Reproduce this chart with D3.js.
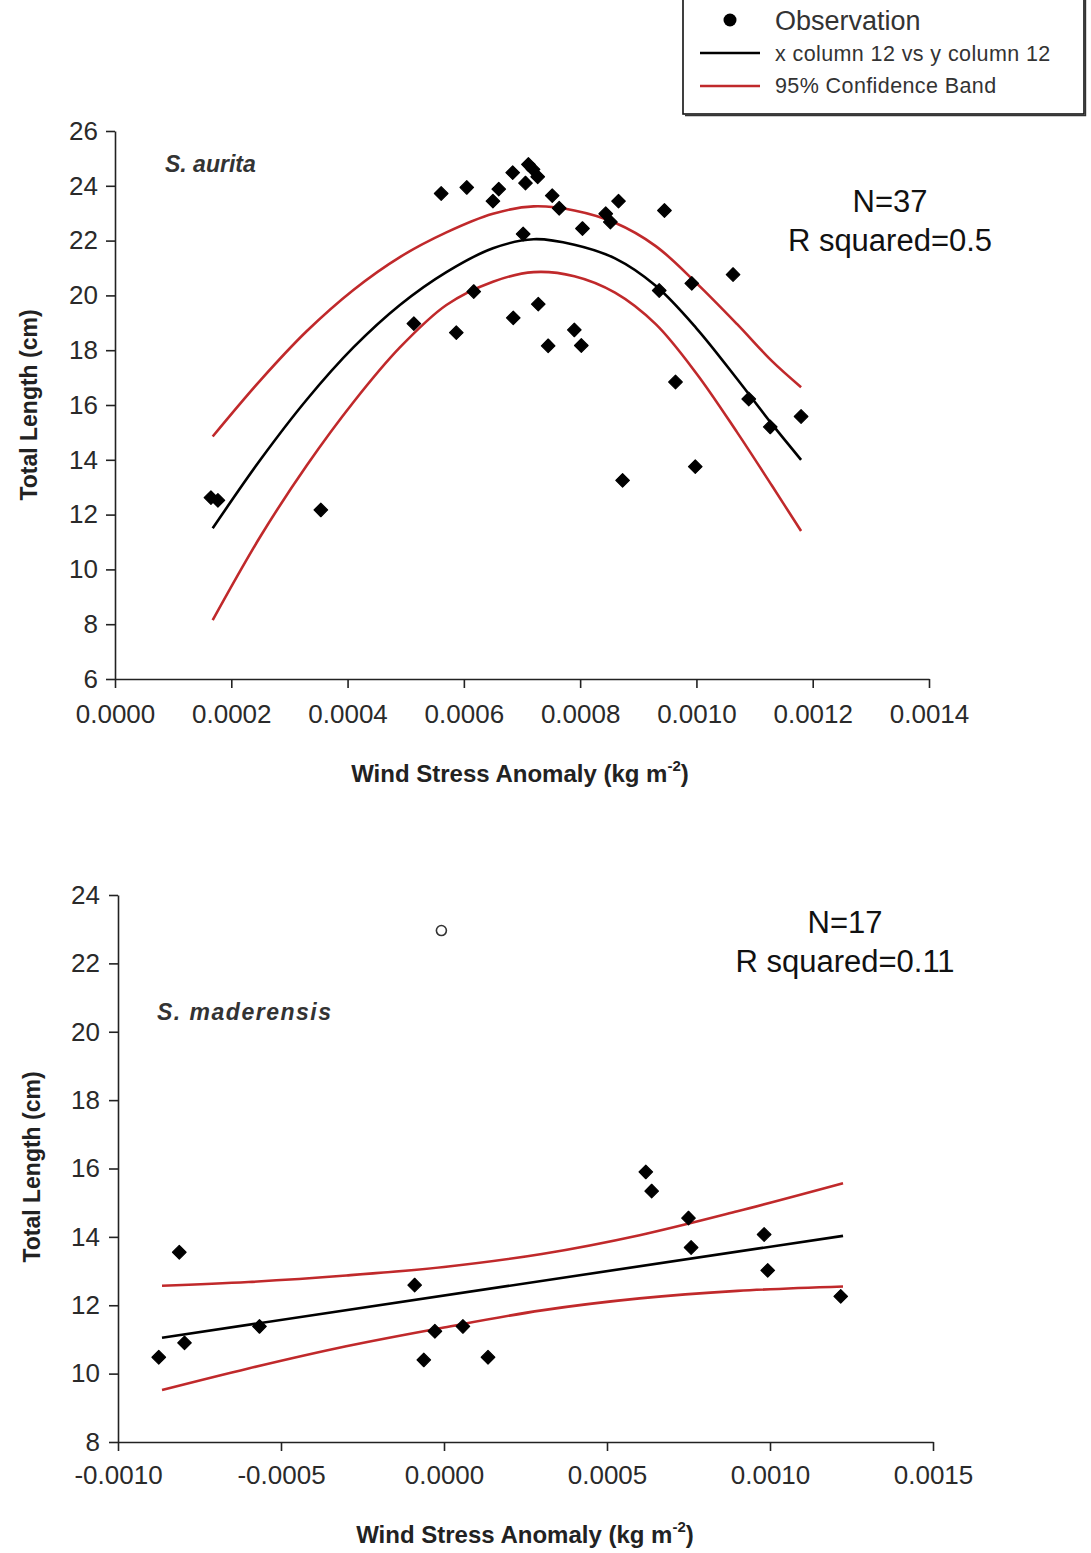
<!DOCTYPE html>
<html>
<head>
<meta charset="utf-8">
<script src="https://cdn.jsdelivr.net/npm/d3@7"></script>
<style>
  html, body { margin: 0; padding: 0; background: #fff; }
  svg { display: block; font-family: "Liberation Sans", Arial, sans-serif; }
</style>
</head>
<body>
<div id="chart"></div>
<script>
// S. aurita: observations [wind stress anomaly, total length]
const auritaObs = [
  [0.000165, 12.62], [0.000177, 12.52], [0.000354, 12.17], [0.000514, 18.97],
  [0.000561, 23.72], [0.000587, 18.64], [0.000605, 23.94], [0.000617, 20.14],
  [0.00065, 23.44], [0.00066, 23.88], [0.000684, 24.48], [0.000685, 19.18],
  [0.000702, 22.24], [0.000706, 24.1], [0.000711, 24.78], [0.000719, 24.6],
  [0.000727, 24.33], [0.000728, 19.68], [0.000745, 18.16], [0.000752, 23.64],
  [0.000764, 23.18], [0.00079, 18.74], [0.000802, 18.17], [0.000804, 22.44],
  [0.000844, 22.98], [0.000852, 22.68], [0.000866, 23.44], [0.000873, 13.25],
  [0.000936, 20.18], [0.000945, 23.1], [0.000964, 16.84], [0.000992, 20.44],
  [0.000998, 13.75], [0.001063, 20.76], [0.00109, 16.22], [0.001127, 15.2],
  [0.00118, 15.58]
];
// fitted curve and 95% band
const auritaFit = [
  [0.000168, 11.5], [0.00025, 14.0], [0.00033, 16.2], [0.00041, 18.1],
  [0.00049, 19.65], [0.00057, 20.85], [0.00065, 21.72], [0.00072, 22.05],
  [0.00079, 21.85], [0.00086, 21.35], [0.00093, 20.35], [0.001, 18.8],
  [0.00107, 16.95], [0.00113, 15.3], [0.00118, 14.0]
];
const auritaUpper = [
  [0.000168, 14.85], [0.00025, 16.9], [0.00033, 18.7], [0.00041, 20.2],
  [0.00049, 21.4], [0.00057, 22.3], [0.00065, 22.98], [0.00072, 23.25],
  [0.00079, 23.1], [0.00086, 22.65], [0.00093, 21.8], [0.001, 20.45],
  [0.00107, 18.95], [0.00113, 17.6], [0.00118, 16.65]
];
const auritaLower = [
  [0.000168, 8.15], [0.00025, 11.2], [0.00033, 13.8], [0.00041, 16.1],
  [0.00049, 18.1], [0.00057, 19.65], [0.00065, 20.5], [0.00072, 20.85],
  [0.00079, 20.7], [0.00086, 20.1], [0.00093, 18.95], [0.001, 17.15],
  [0.00107, 15.0], [0.00113, 13.05], [0.00118, 11.4]
];

// S. maderensis
const maderObs = [
  [-0.000875, 10.48], [-0.000812, 13.55], [-0.000796, 10.9], [-0.000566, 11.38],
  [-0.00009, 12.59], [-0.000062, 10.4], [-0.000028, 11.24], [0.000058, 11.38],
  [0.000135, 10.48], [0.000619, 15.9], [0.000637, 15.34], [0.00075, 14.55],
  [0.000758, 13.69], [0.000982, 14.07], [0.000993, 13.02], [0.001217, 12.26]
];
const maderOutlier = [[-0.000008, 22.96]];
const maderFit = [[-0.000865, 11.05], [0.001224, 14.03]];
const maderUpper = [
  [-0.000865, 12.57], [-0.0006, 12.68], [-0.0003, 12.87], [0, 13.12],
  [0.0003, 13.5], [0.0006, 14.05], [0.0009, 14.75], [0.001224, 15.57]
];
const maderLower = [
  [-0.000865, 9.52], [-0.0006, 10.15], [-0.0003, 10.8], [0, 11.35],
  [0.0003, 11.85], [0.0006, 12.2], [0.0009, 12.42], [0.001224, 12.55]
];

const auritaXTicks = [0, 0.0002, 0.0004, 0.0006, 0.0008, 0.0010, 0.0012, 0.0014];
const auritaYTicks = [6, 8, 10, 12, 14, 16, 18, 20, 22, 24, 26];
const maderXTicks = [-0.0010, -0.0005, 0, 0.0005, 0.0010, 0.0015];
const maderYTicks = [8, 10, 12, 14, 16, 18, 20, 22, 24];

const legendLabels = ["Observation", "x column 12 vs y column 12", "95% Confidence Band"];

const width = 1091, height = 1553;
const red = "#c0292b";
const ink = "#222";

const svg = d3.select("#chart").append("svg")
  .attr("width", width)
  .attr("height", height)
  .attr("viewBox", [0, 0, width, height]);

svg.append("rect").attr("width", width).attr("height", height).attr("fill", "#fff");

const diamond = d3.symbol(d3.symbolSquare, 92);

function drawPanel(cfg) {
  const x = d3.scaleLinear().domain(cfg.xDomain).range(cfg.xRange);
  const y = d3.scaleLinear().domain(cfg.yDomain).range(cfg.yRange);
  const g = svg.append("g");

  const xAxis = g.append("g")
    .attr("transform", `translate(0, ${cfg.yRange[0]})`)
    .call(d3.axisBottom(x).tickValues(cfg.xTicks).tickSize(9).tickSizeOuter(0)
      .tickPadding(cfg.xPad).tickFormat(d => d.toFixed(4)));
  const yAxis = g.append("g")
    .attr("transform", `translate(${cfg.xRange[0]}, 0)`)
    .call(d3.axisLeft(y).tickValues(cfg.yTicks).tickSize(9).tickSizeOuter(0)
      .tickPadding(cfg.yPad));

  [xAxis, yAxis].forEach(a => {
    a.attr("font-family", null).attr("font-size", 26);
    a.selectAll("path, line").attr("stroke", ink).attr("stroke-width", 1.6);
    a.selectAll("text").attr("fill", "#2a2a2a");
  });

  const line = d3.line().x(d => x(d[0])).y(d => y(d[1])).curve(d3.curveCatmullRom.alpha(0.5));

  g.append("path").datum(cfg.fit).attr("d", line)
    .attr("fill", "none").attr("stroke", "#000").attr("stroke-width", 2.6);
  g.selectAll(".band").data([cfg.upper, cfg.lower]).join("path")
    .attr("d", line).attr("fill", "none").attr("stroke", red).attr("stroke-width", 2.6);

  g.append("g").selectAll("path").data(cfg.obs).join("path")
    .attr("d", diamond)
    .attr("transform", d => `translate(${x(d[0])}, ${y(d[1])}) rotate(45)`)
    .attr("fill", "#000").attr("stroke", "#000").attr("stroke-width", 1.2)
    .attr("stroke-linejoin", "round");

  if (cfg.outlier) {
    g.append("g").selectAll("circle").data(cfg.outlier).join("circle")
      .attr("cx", d => x(d[0])).attr("cy", d => y(d[1])).attr("r", 5)
      .attr("fill", "#fff").attr("stroke", "#333").attr("stroke-width", 1.6);
  }

  // axis titles
  const xt = g.append("text")
    .attr("x", cfg.xTitle[0]).attr("y", cfg.xTitle[1])
    .attr("text-anchor", "middle").attr("font-size", 24).attr("font-weight", "bold")
    .attr("fill", ink);
  xt.append("tspan").text("Wind Stress Anomaly (kg m");
  xt.append("tspan").attr("dy", -11).attr("font-size", 15).text("-2");
  xt.append("tspan").attr("dy", 11).text(")");

  g.append("text")
    .attr("transform", `translate(${cfg.yTitle[0]}, ${cfg.yTitle[1]}) rotate(-90)`)
    .attr("text-anchor", "middle").attr("font-size", 23).attr("font-weight", "bold")
    .attr("fill", ink)
    .text("Total Length (cm)");

  g.append("text")
    .attr("x", cfg.species[0]).attr("y", cfg.species[1])
    .attr("font-size", 23).attr("font-weight", "bold").attr("font-style", "italic")
    .attr("letter-spacing", cfg.speciesSpacing).attr("fill", "#333")
    .text(cfg.speciesName);

  g.append("g").selectAll("text").data(cfg.stats).join("text")
    .attr("x", cfg.statsPos[0]).attr("y", (d, i) => cfg.statsPos[1] + i * 39)
    .attr("text-anchor", "middle").attr("font-size", 31).attr("fill", "#111")
    .text(d => d);
}

drawPanel({
  xDomain: [0, 0.0014], xRange: [115, 929],
  yDomain: [6, 26], yRange: [679, 131],
  xTicks: auritaXTicks, yTicks: auritaYTicks, xPad: 17, yPad: 8,
  obs: auritaObs, fit: auritaFit, upper: auritaUpper, lower: auritaLower,
  xTitle: [520, 782], yTitle: [37, 405],
  species: [165, 172], speciesName: "S. aurita", speciesSpacing: 0,
  stats: ["N=37", "R squared=0.5"], statsPos: [890, 212]
});

drawPanel({
  xDomain: [-0.0010, 0.0015], xRange: [118, 933],
  yDomain: [8, 24], yRange: [1442, 895],
  xTicks: maderXTicks, yTicks: maderYTicks, xPad: 15, yPad: 9,
  obs: maderObs, outlier: maderOutlier, fit: maderFit, upper: maderUpper, lower: maderLower,
  xTitle: [525, 1543], yTitle: [40, 1167],
  species: [157, 1020], speciesName: "S. maderensis", speciesSpacing: 1.5,
  stats: ["N=17", "R squared=0.11"], statsPos: [845, 933]
});

// legend, its top edge runs off the page
const legend = svg.append("g");
legend.append("rect")
  .attr("x", 683).attr("y", -4).attr("width", 401).attr("height", 118)
  .attr("fill", "#fff").attr("stroke", "#111").attr("stroke-width", 1.6);
legend.append("path")
  .attr("d", "M685,115.5H1085.5V-4")
  .attr("fill", "none").attr("stroke", "#333").attr("stroke-width", 1.4);

legend.append("circle").attr("cx", 730).attr("cy", 20).attr("r", 6.5).attr("fill", "#000");
legend.append("line").attr("x1", 700).attr("x2", 760).attr("y1", 53).attr("y2", 53)
  .attr("stroke", "#000").attr("stroke-width", 2.6);
legend.append("line").attr("x1", 700).attr("x2", 760).attr("y1", 86).attr("y2", 86)
  .attr("stroke", red).attr("stroke-width", 2.6);

legend.selectAll("text").data(legendLabels).join("text")
  .attr("x", 775)
  .attr("y", (d, i) => [30, 61, 93][i])
  .attr("font-size", (d, i) => i === 0 ? 27 : 21.5)
  .attr("letter-spacing", (d, i) => i === 0 ? 0 : 0.4)
  .attr("fill", "#333")
  .text(d => d);
</script>
</body>
</html>
